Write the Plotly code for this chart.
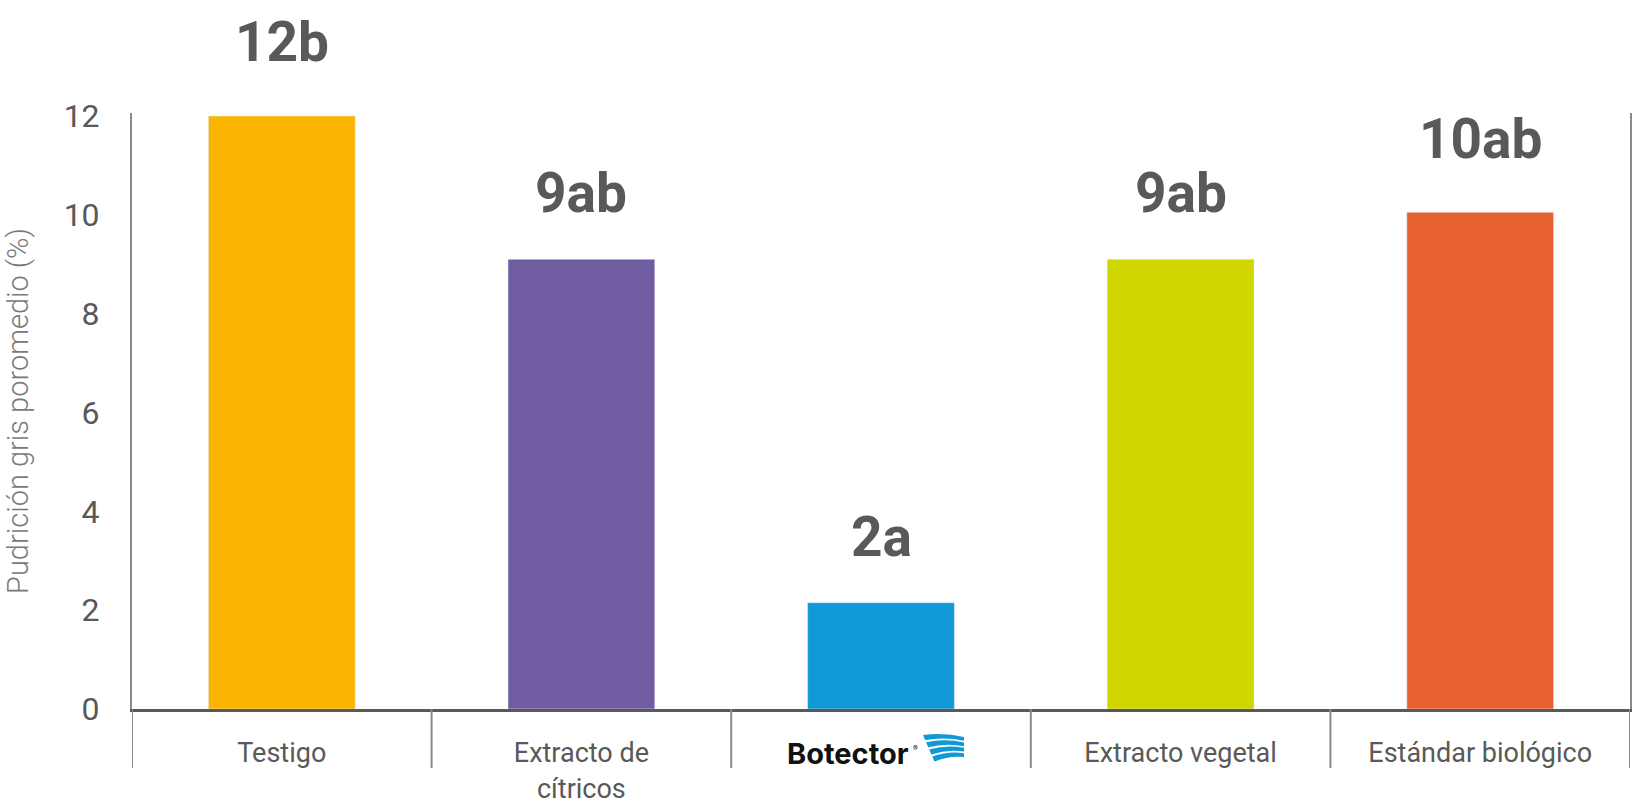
import plotly.graph_objects as go

categories = ["Testigo", "Extracto de cítricos", "Botector", "Extracto vegetal", "Estándar biológico"]
tick_labels = ["Testigo", "Extracto de<br>cítricos", "", "Extracto vegetal", "Estándar biológico"]
values = [12.0, 9.1, 2.15, 9.1, 10.05]
value_labels = ["12b", "9ab", "2a", "9ab", "10ab"]
colors = ["#FBB500", "#705CA0", "#1199D6", "#CFD600", "#E86131"]
y_ticks = [0, 2, 4, 6, 8, 10, 12]

# label vertical offsets in pixels (styling)
label_shift_px = [74, 66, 66, 66, 73]

W, H = 1635, 805
ML, MR, MT, MB = 132, 5, 113, 96
PW, PH = W - ML - MR, H - MT - MB
UNIT = 593 / 12.0
YMAX = PH / UNIT

def px(x):
    return (x - ML) / PW

def py(y):
    return (H - MB - y) / PH

fig = go.Figure()
fig.add_trace(go.Bar(
    x=list(range(len(categories))), y=values, marker_color=colors,
    width=0.49, hovertext=categories, showlegend=False,
))

annotations = []
for i, (v, lab) in enumerate(zip(values, value_labels)):
    annotations.append(dict(
        x=i, y=v, xref="x", yref="y", text=lab, showarrow=False,
        yanchor="middle", yshift=label_shift_px[i],
        font=dict(family="Roboto", size=55, color="#595959", weight="bold"),
    ))

# Botector logo text
annotations.append(dict(
    x=2, y=py(753), xref="x", yref="paper", xshift=-33,
    text="<b>Botector</b>", showarrow=False, yanchor="middle", xanchor="center",
    font=dict(family="Inter", size=29, color="#111111"),
))
annotations.append(dict(
    x=2, y=py(748), xref="x", yref="paper", xshift=34,
    text="®", showarrow=False, yanchor="middle", xanchor="center",
    font=dict(family="Inter", size=7, color="#111111"),
))

shapes = []
# dividers under x axis
for b in [-0.5, 0.5, 1.5, 2.5, 3.5, 4.5]:
    shapes.append(dict(type="line", xref="x", yref="paper", x0=b, x1=b,
                       y0=py(768), y1=0, line=dict(color="#8a8a8a", width=2)))

# Botector icon stripes
for k in range(4):
    yLt = 735 + 7.2 * k
    yLb = yLt + 5
    yRt = 737 + 5.4 * k
    yRb = yRt + 3.8
    xLt = 923 + (yLt - 735) * 12 / 28
    xLb = 923 + (yLb - 735) * 12 / 28
    xR = 964
    cxt = (xLt + xR) / 2
    cyt = (yLt + yRt) / 2 - 4
    cxb = (xLb + xR) / 2
    cyb = (yLb + yRb) / 2 - 4
    path = (f"M {px(xLt)},{py(yLt)} Q {px(cxt)},{py(cyt)} {px(xR)},{py(yRt)} "
            f"L {px(xR)},{py(yRb)} Q {px(cxb)},{py(cyb)} {px(xLb)},{py(yLb)} Z")
    shapes.append(dict(type="path", xref="paper", yref="paper", path=path,
                       fillcolor="#1199D6", line=dict(width=0)))

fig.update_layout(
    width=W, height=H,
    margin=dict(l=ML, r=MR, t=MT, b=MB, autoexpand=False),
    paper_bgcolor="white", plot_bgcolor="white",
    annotations=annotations, shapes=shapes,
    xaxis=dict(
        range=[-0.5, 4.5], tickmode="array", tickvals=list(range(len(categories))),
        ticktext=tick_labels, showgrid=False, zeroline=False,
        showline=True, linecolor="#595959", linewidth=3,
        ticks="", ticklabelstandoff=18,
        tickfont=dict(family="Roboto", size=27, color="#595959"),
    ),
    yaxis=dict(
        range=[0, YMAX], tickmode="array", tickvals=y_ticks,
        showgrid=False, zeroline=False,
        showline=True, mirror=True, linecolor="#8a8a8a", linewidth=2,
        ticks="", ticklabelstandoff=24,
        tickfont=dict(family="Roboto", size=32, color="#595959"),
        title=dict(text="Pudrición gris poromedio (%)", standoff=26,
                   font=dict(family="Roboto", size=29, color="#7a7a7a", weight=300)),
    ),
)

fig.write_html("out.html")
